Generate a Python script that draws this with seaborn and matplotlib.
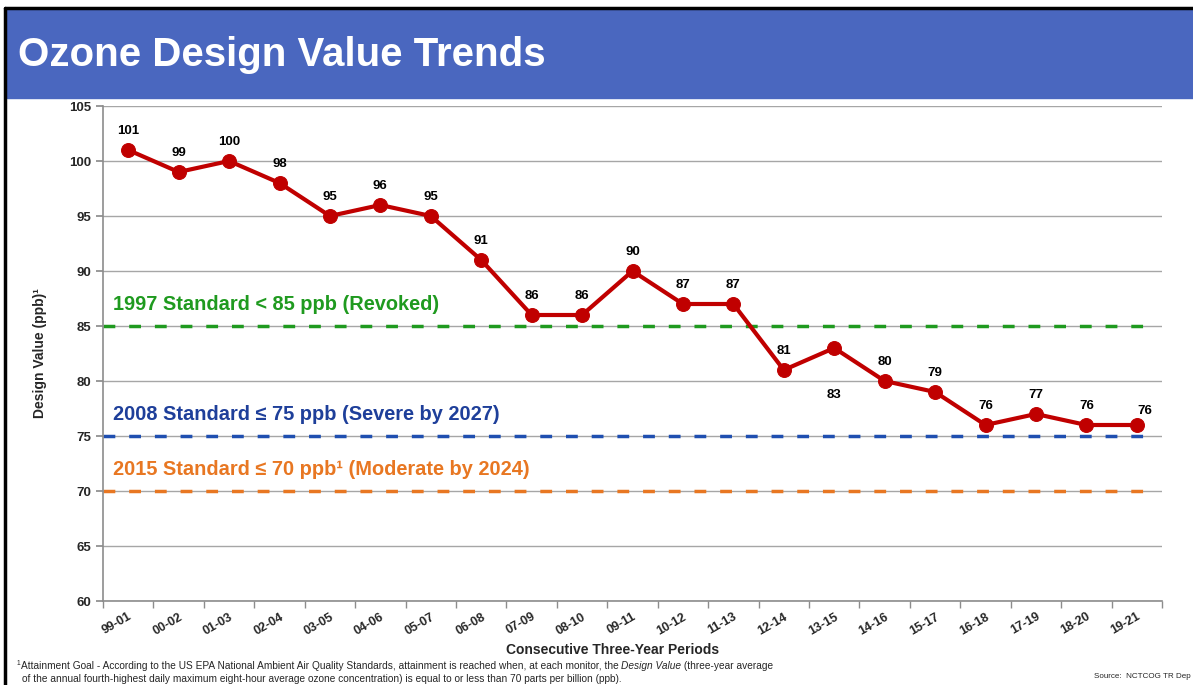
import matplotlib
matplotlib.use("Agg")
import matplotlib.pyplot as plt
import matplotlib.patches as patches
import seaborn as sns
import pandas as pd

periods = ['99-01', '00-02', '01-03', '02-04', '03-05', '04-06', '05-07', '06-08',
           '07-09', '08-10', '09-11', '10-12', '11-13', '12-14', '13-15', '14-16',
           '15-17', '16-18', '17-19', '18-20', '19-21']
design_values = [101, 99, 100, 98, 95, 96, 95, 91, 86, 86, 90, 87, 87, 81, 83, 80,
                 79, 76, 77, 76, 76]
standard_levels = [85, 75, 70]
standard_labels = ['1997 Standard < 85 ppb (Revoked)',
                   '2008 Standard \u2264 75 ppb (Severe by 2027)',
                   '2015 Standard \u2264 70 ppb\u00b9 (Moderate by 2024)']
y_ticks = [60, 65, 70, 75, 80, 85, 90, 95, 100, 105]

sns.set_theme(style="white")
plt.rcParams['font.family'] = ['Liberation Sans', 'DejaVu Sans']

df = pd.DataFrame({'pos': range(len(periods)), 'period': periods, 'value': design_values})

fig = plt.figure(figsize=(11.93, 6.85), dpi=100)
fig.patch.set_facecolor('white')

# banner + border
fig.patches.append(patches.Rectangle((7 / 1193, 1 - 98 / 685), 1, 88 / 685,
                                     transform=fig.transFigure, color='#4a67bf', zorder=0))
fig.lines.append(plt.Line2D([5 / 1193, 5 / 1193], [0, 1 - 8 / 685], transform=fig.transFigure,
                            color='black', lw=2.5))
fig.lines.append(plt.Line2D([5 / 1193, 1], [1 - 8 / 685, 1 - 8 / 685], transform=fig.transFigure,
                            color='black', lw=2.5))
fig.text(18 / 1193, 1 - 55 / 685, 'Ozone Design Value Trends', color='white',
         fontsize=29, fontweight='bold', va='center', ha='left')

ax = fig.add_axes([103 / 1193, 1 - 601 / 685, (1162 - 103) / 1193, (601 - 106) / 685])

ax.set_ylim(60, 105)
ax.set_xlim(-0.5, len(periods) - 0.5)
ax.set_yticks(y_ticks)
ax.yaxis.grid(True, color='#a6a6a6', lw=1)
ax.set_axisbelow(True)

# standard lines
std_colors = ['#1f9a1f', '#1f4fb0', '#e87722']
text_colors = ['#1f9a1f', '#1e3f9a', '#e87722']
for lvl, lab, c, tc in zip(standard_levels, standard_labels, std_colors, text_colors):
    ax.hlines(lvl, -0.5, len(periods) - 0.8, colors=c, linestyles=(0, (3.4, 4.0)), lw=2.5, zorder=2)
    ax.text(-0.3, lvl + 2.0, lab, color=tc, fontsize=14.4, fontweight='bold', va='center', ha='left')

sns.lineplot(data=df, x='pos', y='value', ax=ax, color='#c00000', lw=3, marker='o',
             markersize=10, markeredgecolor='#c00000', zorder=3)

for i, v in enumerate(design_values):
    dx, dy = 0, 1.75
    if periods[i] == '13-15':
        dy = -4.3
    if i == len(periods) - 1:
        dx, dy = 0.15, 1.3
    ax.text(i + dx, v + dy, str(v), ha='center', va='center', fontsize=9.5, fontweight='bold',
            color='black')

ax.set_xticks(range(len(periods)))
ax.set_xticklabels(periods, rotation=30, ha='right', rotation_mode='anchor',
                   fontsize=9, fontweight='bold')
ax.set_xticks([i - 0.5 for i in range(len(periods) + 1)], minor=True)
ax.tick_params(axis='x', which='major', length=0, pad=7)
ax.tick_params(axis='x', which='minor', length=5, color='#8c8c8c', direction='out', bottom=True)
ax.tick_params(axis='y', length=5, color='#8c8c8c', direction='out', left=True, labelsize=9.5)
for lab in ax.get_yticklabels():
    lab.set_fontweight('bold')

for s in ['top', 'right']:
    ax.spines[s].set_visible(False)
for s in ['left', 'bottom']:
    ax.spines[s].set_color('#8c8c8c')
    ax.spines[s].set_linewidth(1.2)

ax.set_xlabel('')
ax.set_ylabel('Design Value (ppb)\u00b9', fontsize=10, fontweight='bold', labelpad=16)
fig.text(613 / 1193, 1 - 650 / 685, 'Consecutive Three-Year Periods', ha='center', va='center',
         fontsize=10, fontweight='bold')

# footnote with italic part
fig.canvas.draw()
r = fig.canvas.get_renderer()
fs = 7.3
y1 = 1 - 666 / 685
t0 = fig.text(17 / 1193, y1 + 0.004, '1', fontsize=4.8, va='center', ha='left')
x = t0.get_window_extent(r).x1 / 1193
t1 = fig.text(x, y1, 'Attainment Goal - According to the US EPA National Ambient Air Quality '
              'Standards, attainment is reached when, at each monitor, the ', fontsize=fs,
              va='center', ha='left')
x = t1.get_window_extent(r).x1 / 1193
t2 = fig.text(x, y1, 'Design Value', fontsize=fs, style='italic', va='center', ha='left')
x = t2.get_window_extent(r).x1 / 1193
fig.text(x, y1, ' (three-year average', fontsize=fs, va='center', ha='left')
fig.text(22 / 1193, 1 - 679 / 685, 'of the annual fourth-highest daily maximum eight-hour average '
         'ozone concentration) is equal to or less than 70 parts per billion (ppb).',
         fontsize=fs, va='center', ha='left')
fig.text(1191 / 1193, 1 - 676 / 685, 'Source:  NCTCOG TR Dep', fontsize=5.8,
         va='center', ha='right')

fig.savefig('out.png', dpi=100)
